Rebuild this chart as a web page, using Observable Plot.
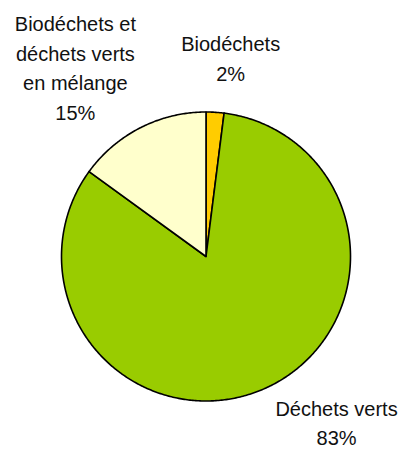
<!DOCTYPE html>
<html>
<head>
<meta charset="utf-8">
<script src="https://cdn.jsdelivr.net/npm/d3@7"></script>
<script src="https://cdn.jsdelivr.net/npm/@observablehq/plot@0.6"></script>
<style>
  html, body { margin: 0; padding: 0; background: #fff; }
</style>
</head>
<body>
<div id="chart"></div>
<script>
// Data
const categories = ["Biodéchets", "Déchets verts", "Biodéchets et\ndéchets verts\nen mélange"];
const shares = [2, 83, 15];
const colors = ["#FFCC00", "#99CC00", "#FFFFCC"];

const W = 411, H = 450;
const cx = 205.5, cy = 256, R = 144.5;

const pie = d3.pie().sort(null).value(d => d.value)(
  categories.map((c, i) => ({ category: c, value: shares[i] }))
);

// Polygon points for each slice (unit-radius coordinates, y up)
const pts = [];
pie.forEach(s => {
  const c = s.data.category;
  pts.push({ category: c, x: 0, y: 0 });
  const n = Math.max(2, Math.ceil((s.endAngle - s.startAngle) / 0.01));
  for (let k = 0; k <= n; k++) {
    const a = s.startAngle + (s.endAngle - s.startAngle) * k / n;
    pts.push({ category: c, x: Math.sin(a), y: Math.cos(a) });
  }
  pts.push({ category: c, x: 0, y: 0 });
});

// Label placement (angle shift in radians, radius factor)
const labelPlace = [
  { da: 0.06, r: 1.395 },
  { da: -0.2625, r: 1.453 },
  { da: -0.13, r: 1.598 }
];
const labels = pie.map((s, i) => {
  const mid = (s.startAngle + s.endAngle) / 2 + labelPlace[i].da;
  const r = labelPlace[i].r;
  return {
    x: r * Math.sin(mid),
    y: r * Math.cos(mid),
    text: `${s.data.category}\n${s.data.value}%`
  };
});

const chart = Plot.plot({
  width: W,
  height: H,
  margin: 0,
  x: { domain: [-cx / R, (W - cx) / R], range: [0, W], axis: null },
  y: { domain: [-(H - cy) / R, cy / R], range: [H, 0], axis: null },
  color: { domain: categories, range: colors },
  style: { fontFamily: "'Liberation Sans', Arial, sans-serif", background: "#fff" },
  marks: [
    Plot.line(pts, {
      x: "x", y: "y", z: "category", fill: "category",
      stroke: "#000", strokeWidth: 1.6, strokeLinejoin: "round", curve: "linear"
    }),
    Plot.text(labels, {
      x: "x", y: "y", text: "text",
      fontSize: 20, lineHeight: 1.47, fill: "#111",
      fontFamily: "'Liberation Sans', Arial, sans-serif"
    })
  ]
});
document.getElementById("chart").appendChild(chart);
</script>
</body>
</html>
